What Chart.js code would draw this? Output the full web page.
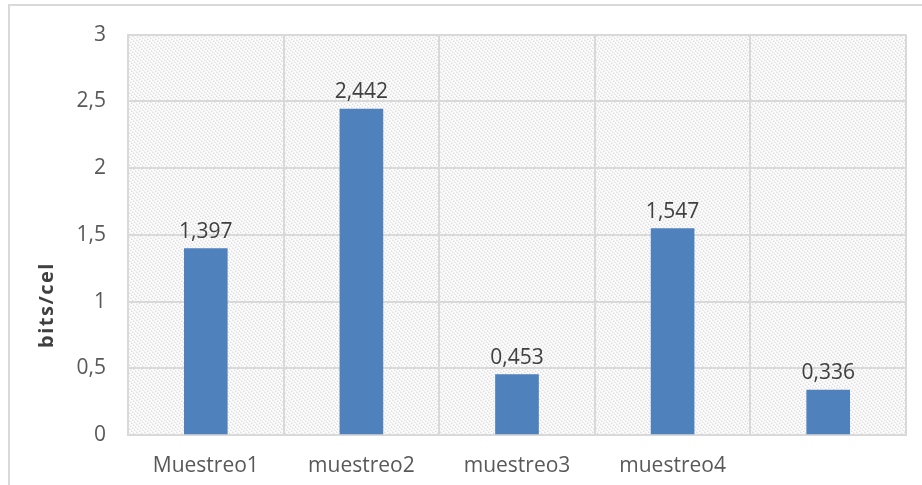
<!DOCTYPE html>
<html>
<head>
<meta charset="utf-8">
<script src="https://cdn.jsdelivr.net/npm/chart.js@4.4.1/dist/chart.umd.min.js"></script>
<style>
  html, body { margin: 0; padding: 0; background: #ffffff; }
  #wrap { width: 922px; height: 485px; position: relative; }
</style>
</head>
<body>
<div id="wrap"><canvas id="c" width="922" height="485"></canvas></div>
<script>
const categories = ["Muestreo1", "muestreo2", "muestreo3", "muestreo4", ""];
const values = [1.397, 2.442, 0.453, 1.547, 0.336];
const valueLabels = ["1,397", "2,442", "0,453", "1,547", "0,336"];
const yTickValues = [0, 0.5, 1, 1.5, 2, 2.5, 3];
const yTickLabels = ["0", "0,5", "1", "1,5", "2", "2,5", "3"];
const yTitle = "bits/cel";

const FONT = "'Open Sans', Lato, sans-serif";

function makePattern() {
  const t = document.createElement('canvas');
  t.width = 8; t.height = 8;
  const g = t.getContext('2d');
  g.fillStyle = '#fbfbfb';
  g.fillRect(0, 0, 8, 8);
  g.fillStyle = '#dedede';
  for (let i = 0; i < 8; i += 1) {
    if (i % 2 === 0) g.fillRect(i, i, 1, 1);
    if (i % 2 === 1) g.fillRect((i + 4) % 8, i, 1, 1);
  }
  g.fillStyle = '#ececec';
  for (let i = 0; i < 8; i++) {
    g.fillRect((i + 1) % 8, i, 1, 1);
    g.fillRect((i + 5) % 8, i, 1, 1);
  }
  return g.createPattern(t, 'repeat');
}

const bgPlugin = {
  id: 'bg',
  beforeDraw(chart) {
    const ctx = chart.ctx;
    const a = chart.chartArea;
    ctx.save();
    ctx.fillStyle = '#ffffff';
    ctx.fillRect(0, 0, chart.width, chart.height);
    ctx.fillStyle = makePattern();
    ctx.fillRect(a.left, a.top, a.right - a.left, a.bottom - a.top);
    ctx.strokeStyle = '#d9d9d9';
    ctx.lineWidth = 2;
    ctx.beginPath();
    ctx.moveTo(9, 485);
    ctx.lineTo(9, 5);
    ctx.lineTo(922, 5);
    ctx.stroke();
    ctx.restore();
  },
  afterDraw(chart) {
    const ctx = chart.ctx;
    ctx.save();
    ctx.translate(47, 305);
    ctx.rotate(-Math.PI / 2);
    ctx.font = "bold 20px " + FONT;
    if ('letterSpacing' in ctx) ctx.letterSpacing = '1.5px';
    ctx.fillStyle = '#404040';
    ctx.textAlign = 'center';
    ctx.textBaseline = 'middle';
    ctx.fillText(yTitle, 0, 0);
    ctx.restore();
  }
};

const labelPlugin = {
  id: 'vlabels',
  afterDatasetsDraw(chart) {
    const ctx = chart.ctx;
    const meta = chart.getDatasetMeta(0);
    ctx.save();
    ctx.font = "21px " + FONT;
    ctx.fillStyle = '#404040';
    ctx.textAlign = 'center';
    ctx.textBaseline = 'alphabetic';
    meta.data.forEach((bar, i) => {
      ctx.fillText(valueLabels[i], bar.x, bar.y - 11);
    });
    ctx.restore();
  }
};

new Chart(document.getElementById('c'), {
  type: 'bar',
  data: {
    labels: categories,
    datasets: [{
      data: values,
      backgroundColor: '#4f81bd',
      borderWidth: 0,
      barThickness: 43
    }]
  },
  options: {
    responsive: false,
    animation: false,
    events: [],
    layout: { padding: { top: 30, right: 16, left: 0, bottom: 0 } },
    plugins: { legend: { display: false }, tooltip: { enabled: false } },
    scales: {
      x: {
        afterFit(s) { s.height = 50; },
        grid: { color: '#d9d9d9', lineWidth: 2, drawTicks: false, offset: true },
        border: { color: '#d9d9d9', width: 2 },
        ticks: { color: '#595959', font: { family: FONT, size: 21 }, padding: 18, maxRotation: 0 }
      },
      y: {
        min: 0, max: 3,
        afterFit(s) { s.width = 128; },
        afterBuildTicks(s) { s.ticks = yTickValues.map(v => ({ value: v })); },
        grid: { color: '#d9d9d9', lineWidth: 2, drawTicks: false },
        border: { color: '#d9d9d9', width: 2 },
        ticks: {
          color: '#595959', font: { family: FONT, size: 21 }, padding: 22,
          callback: (v) => { const i = yTickValues.indexOf(v); return i >= 0 ? yTickLabels[i] : ''; }
        }
      }
    }
  },
  plugins: [bgPlugin, labelPlugin]
});
</script>
</body>
</html>
